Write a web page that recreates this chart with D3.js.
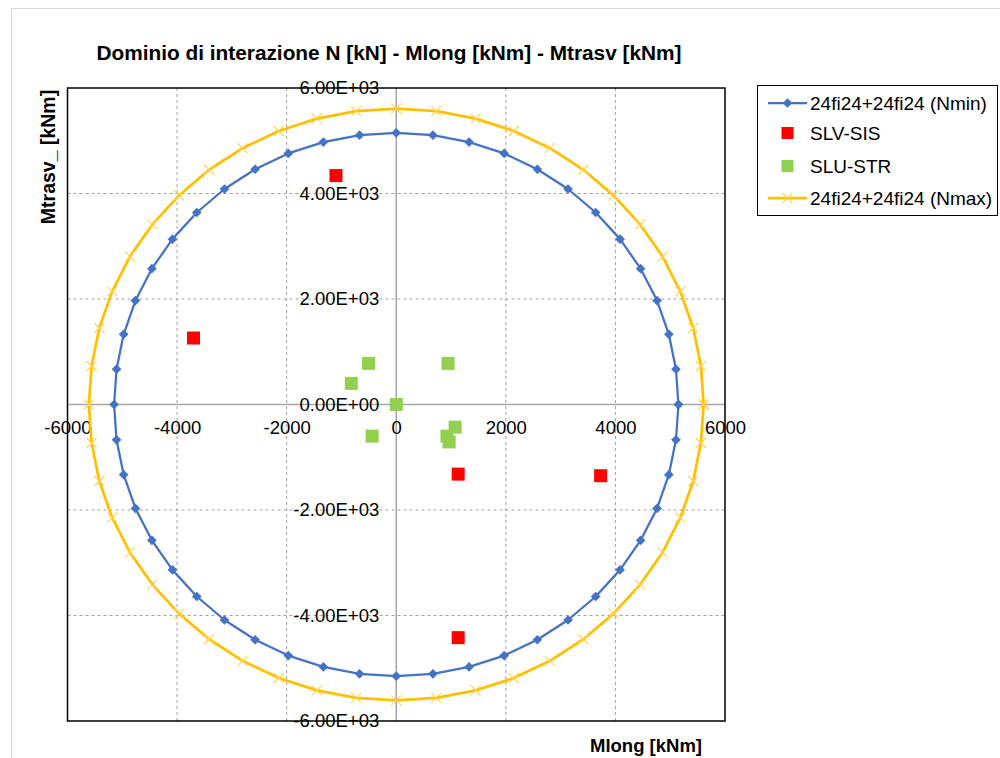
<!DOCTYPE html>
<html>
<head>
<meta charset="utf-8">
<script src="https://cdn.jsdelivr.net/npm/d3@7"></script>
<style>
  html, body { margin: 0; padding: 0; background: #fff; }
  svg { display: block; font-family: "Liberation Sans", Arial, sans-serif; }
</style>
</head>
<body>
<svg id="chart" width="1000" height="758"></svg>
<script>
// ---- Data ----
const titleText = "Dominio di interazione N [kN] - Mlong [kNm] - Mtrasv [kNm]";
const xTitle = "Mlong [kNm]";
const yTitle = "Mtrasv_ [kNm]";
const xTicks = [-6000, -4000, -2000, 0, 2000, 4000, 6000];
const yTicks = [-6000, -4000, -2000, 0, 2000, 4000, 6000];
const gridX = [-4000, -2000, 2000, 4000];
const gridY = [-4000, -2000, 2000, 4000];

// Series "24fi24+24fi24 (Nmin)"
const nminMlong = [5150, 5105, 4975, 4760, 4460, 4085, 3640, 3135, 2575, 1970, 1330, 670, 0,
  -670, -1330, -1970, -2575, -3135, -3640, -4085, -4460, -4760, -4975, -5105, -5150,
  -5105, -4975, -4760, -4460, -4085, -3640, -3135, -2575, -1970, -1330, -670, 0,
  670, 1330, 1970, 2575, 3135, 3640, 4085, 4460, 4760, 4975, 5105, 5150];
const nminMtrasv = [0, 670, 1330, 1970, 2575, 3135, 3640, 4085, 4460, 4760, 4975, 5105, 5150,
  5105, 4975, 4760, 4460, 4085, 3640, 3135, 2575, 1970, 1330, 670, 0,
  -670, -1330, -1970, -2575, -3135, -3640, -4085, -4460, -4760, -4975, -5105, -5150,
  -5105, -4975, -4760, -4460, -4085, -3640, -3135, -2575, -1970, -1330, -670, 0];

// Series "24fi24+24fi24 (Nmax)"
const nmaxMlong = [5610, 5560, 5420, 5185, 4860, 4450, 3965, 3415, 2805, 2145, 1450, 730, 0,
  -730, -1450, -2145, -2805, -3415, -3965, -4450, -4860, -5185, -5420, -5560, -5610,
  -5560, -5420, -5185, -4860, -4450, -3965, -3415, -2805, -2145, -1450, -730, 0,
  730, 1450, 2145, 2805, 3415, 3965, 4450, 4860, 5185, 5420, 5560, 5610];
const nmaxMtrasv = [0, 730, 1450, 2145, 2805, 3415, 3965, 4450, 4860, 5185, 5420, 5560, 5610,
  5560, 5420, 5185, 4860, 4450, 3965, 3415, 2805, 2145, 1450, 730, 0,
  -730, -1450, -2145, -2805, -3415, -3965, -4450, -4860, -5185, -5420, -5560, -5610,
  -5560, -5420, -5185, -4860, -4450, -3965, -3415, -2805, -2145, -1450, -730, 0];

// Series "SLV-SIS"
const slvMlong = [-1100, -3700, 1130, 3730, 1130];
const slvMtrasv = [4340, 1260, -1320, -1350, -4420];

// Series "SLU-STR"
const sluMlong = [-505, -820, 0, 945, -440, 1075, 925, 965];
const sluMtrasv = [780, 400, 0, 780, -600, -430, -600, -710];

const legendLabels = ["24fi24+24fi24 (Nmin)", "SLV-SIS", "SLU-STR", "24fi24+24fi24 (Nmax)"];

// ---- Colours ----
const blue = "#4472C4", yellow = "#FFC000", red = "#FF0000", green = "#92D050";

const svg = d3.select("#chart");
const x = d3.scaleLinear().domain([-6000, 6000]).range([67.5, 725]);
const y = d3.scaleLinear().domain([-6000, 6000]).range([721, 88]);

// outer chart-area border
svg.append("rect").attr("x", 11.5).attr("y", 8.5).attr("width", 1100).attr("height", 900)
  .attr("fill", "none").attr("stroke", "#d9d9d9").attr("stroke-width", 1);

// title
svg.append("text").attr("x", 389).attr("y", 59.5).attr("text-anchor", "middle")
  .attr("font-size", 20).attr("font-weight", "bold").attr("fill", "#000")
  .attr("textLength", 585).attr("lengthAdjust", "spacingAndGlyphs")
  .text(titleText);

// gridlines
const g = svg.append("g");
g.selectAll("line.gx").data(gridX).join("line")
  .attr("x1", d => x(d)).attr("x2", d => x(d)).attr("y1", y(6000)).attr("y2", y(-6000))
  .attr("stroke", "#a0a0a0").attr("stroke-width", 1).attr("stroke-dasharray", "3,3");
g.selectAll("line.gy").data(gridY).join("line")
  .attr("y1", d => y(d)).attr("y2", d => y(d)).attr("x1", x(-6000)).attr("x2", x(6000))
  .attr("stroke", "#a0a0a0").attr("stroke-width", 1).attr("stroke-dasharray", "3,3");

// zero axes (gray)
g.append("line").attr("x1", x(0)).attr("x2", x(0)).attr("y1", y(6000)).attr("y2", y(-6000))
  .attr("stroke", "#a6a6a6").attr("stroke-width", 1.5);
g.append("line").attr("y1", y(0)).attr("y2", y(0)).attr("x1", x(-6000)).attr("x2", x(6000))
  .attr("stroke", "#a6a6a6").attr("stroke-width", 1.5);

// plot border
g.append("rect").attr("x", x(-6000)).attr("y", y(6000))
  .attr("width", x(6000) - x(-6000)).attr("height", y(-6000) - y(6000))
  .attr("fill", "none").attr("stroke", "#000").attr("stroke-width", 1.5);

// axes (labels only)
const fmtE = d => {
  const [m, e] = d.toExponential(2).split("e");
  return m + "E" + e[0] + e.slice(1).padStart(2, "0");
};
const xAxis = svg.append("g").attr("transform", `translate(0,${y(0)})`)
  .call(d3.axisBottom(x).tickValues(xTicks).tickSize(0).tickPadding(16.5).tickFormat(d => String(d)));
const yAxis = svg.append("g").attr("transform", `translate(${x(0)},0)`)
  .call(d3.axisLeft(y).tickValues(yTicks).tickSize(0).tickPadding(17).tickFormat(fmtE));
[xAxis, yAxis].forEach(a => {
  a.select(".domain").remove();
  a.selectAll("text").attr("font-size", 18.5).attr("font-family", "Liberation Sans, Arial, sans-serif").attr("fill", "#000");
});

// lines
const lineGen = d3.line().x(d => x(d[0])).y(d => y(d[1]));
const nmin = nminMlong.map((v, i) => [v, nminMtrasv[i]]);
const nmax = nmaxMlong.map((v, i) => [v, nmaxMtrasv[i]]);

svg.append("path").datum(nmax).attr("d", lineGen).attr("fill", "none")
  .attr("stroke", yellow).attr("stroke-width", 2.75).attr("stroke-linejoin", "round");
const xm = 5;
svg.append("g").selectAll("path").data(nmax).join("path")
  .attr("d", d => `M${x(d[0]) - xm},${y(d[1]) - xm}L${x(d[0]) + xm},${y(d[1]) + xm}M${x(d[0]) - xm},${y(d[1]) + xm}L${x(d[0]) + xm},${y(d[1]) - xm}`)
  .attr("stroke", "#FFD34D").attr("stroke-width", 1.1).attr("fill", "none");

svg.append("path").datum(nmin).attr("d", lineGen).attr("fill", "none")
  .attr("stroke", blue).attr("stroke-width", 2.25).attr("stroke-linejoin", "round");
const dia = d3.symbol().type(d3.symbolDiamond2).size(60);
svg.append("g").selectAll("path").data(nmin).join("path")
  .attr("transform", d => `translate(${x(d[0])},${y(d[1])})`)
  .attr("d", dia).attr("fill", blue);

// scatter squares
const sq = 13;
svg.append("g").selectAll("rect").data(sluMlong.map((v, i) => [v, sluMtrasv[i]])).join("rect")
  .attr("x", d => x(d[0]) - sq / 2).attr("y", d => y(d[1]) - sq / 2)
  .attr("width", sq).attr("height", sq).attr("fill", green);
svg.append("g").selectAll("rect").data(slvMlong.map((v, i) => [v, slvMtrasv[i]])).join("rect")
  .attr("x", d => x(d[0]) - sq / 2).attr("y", d => y(d[1]) - sq / 2)
  .attr("width", sq).attr("height", sq).attr("fill", red);

// axis titles
svg.append("text").attr("x", 646).attr("y", 752).attr("text-anchor", "middle")
  .attr("font-size", 18.5).attr("font-weight", "bold").text(xTitle);
svg.append("text").attr("transform", "translate(55,157) rotate(-90)").attr("text-anchor", "middle")
  .attr("font-size", 19.5).attr("font-weight", "bold").text(yTitle);

// legend
const lg = svg.append("g");
lg.append("rect").attr("x", 757.5).attr("y", 85.5).attr("width", 240).attr("height", 130)
  .attr("fill", "#fff").attr("stroke", "#000").attr("stroke-width", 1);
const ly = [103, 133, 166, 198];
const lx0 = 768, lx1 = 807, lxm = 787.5, ltx = 810;
// Nmin
lg.append("line").attr("x1", lx0).attr("x2", lx1).attr("y1", ly[0]).attr("y2", ly[0])
  .attr("stroke", blue).attr("stroke-width", 2.25);
lg.append("path").attr("transform", `translate(${lxm},${ly[0]})`).attr("d", dia).attr("fill", blue);
// SLV-SIS
lg.append("rect").attr("x", lxm - 6).attr("y", ly[1] - 6).attr("width", 12).attr("height", 12).attr("fill", red);
// SLU-STR
lg.append("rect").attr("x", lxm - 6).attr("y", ly[2] - 6).attr("width", 12).attr("height", 12).attr("fill", green);
// Nmax
lg.append("line").attr("x1", lx0).attr("x2", lx1).attr("y1", ly[3]).attr("y2", ly[3])
  .attr("stroke", yellow).attr("stroke-width", 2.75);
lg.append("path")
  .attr("d", `M${lxm - xm},${ly[3] - xm}L${lxm + xm},${ly[3] + xm}M${lxm - xm},${ly[3] + xm}L${lxm + xm},${ly[3] - xm}`)
  .attr("stroke", "#FFD34D").attr("stroke-width", 1.1);
lg.selectAll("text.l").data(legendLabels).join("text")
  .attr("x", ltx).attr("y", (d, i) => ly[i] + 7)
  .attr("font-size", 19).attr("fill", "#000").text(d => d);
</script>
</body>
</html>
